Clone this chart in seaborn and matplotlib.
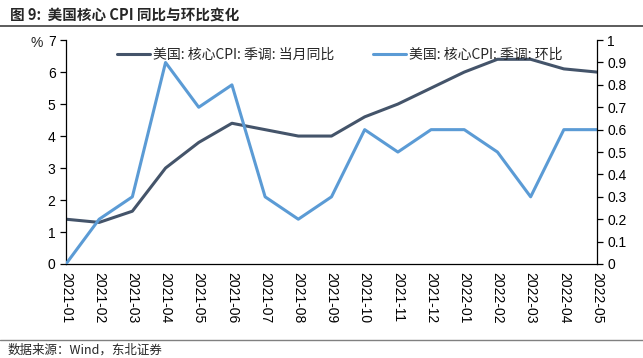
import matplotlib
matplotlib.use("Agg")
import matplotlib.pyplot as plt
import seaborn as sns
import pandas as pd

# data
months = ["2021-01", "2021-02", "2021-03", "2021-04", "2021-05", "2021-06",
          "2021-07", "2021-08", "2021-09", "2021-10", "2021-11", "2021-12",
          "2022-01", "2022-02", "2022-03", "2022-04", "2022-05"]
yoy = [1.4, 1.3, 1.65, 3.0, 3.8, 4.4, 4.2, 4.0, 4.0, 4.6, 5.0, 5.5, 6.0, 6.4, 6.4, 6.1, 6.0]
mom = [0.0, 0.2, 0.3, 0.9, 0.7, 0.8, 0.3, 0.2, 0.3, 0.6, 0.5, 0.6, 0.6, 0.5, 0.3, 0.6, 0.6]
yoy_name = "美国: 核心CPI: 季调: 当月同比"
mom_name = "美国: 核心CPI: 季调: 环比"

df = pd.DataFrame({"month": months, "yoy": yoy, "mom": mom})

sns.set_style("white")
plt.rcParams["font.family"] = ["Liberation Sans", "Noto Sans CJK SC", "DejaVu Sans"]

fig = plt.figure(figsize=(6.43, 3.58), dpi=100)
ax = fig.add_axes([0.1026, 0.2626, 0.8259, 0.6254])
ax2 = ax.twinx()

dark = "#44546A"
light = "#5B9BD5"
sns.lineplot(data=df, x="month", y="yoy", ax=ax, color=dark, linewidth=2.2, sort=False, label=yoy_name, legend=False)
sns.lineplot(data=df, x="month", y="mom", ax=ax2, color=light, linewidth=2.2, sort=False, label=mom_name, legend=False)

ax.set_xlim(0, len(months) - 1)
ax.set_ylim(0, 7)
ax2.set_ylim(0, 1)
ax.set_yticks(range(0, 8))
ax2.set_yticks([i / 10 for i in range(11)])
ax2.set_yticklabels(["0"] + [f"{i/10:.1f}" for i in range(1, 10)] + ["1"])
ax.set_xlabel("")
ax.set_ylabel("")
ax2.set_ylabel("")
ax.set_xticks(range(len(months)))
ax.set_xticklabels(months, rotation=270, fontsize=10)

for a in (ax, ax2):
    a.spines["top"].set_visible(False)
    for s in ("left", "right", "bottom"):
        a.spines[s].set_color("black")
        a.spines[s].set_linewidth(0.9)
    a.tick_params(axis="both", direction="out", length=4, width=0.9, labelsize=10, colors="black")
    a.grid(False)
ax.tick_params(axis="x", pad=2)
ax.spines["right"].set_visible(False)
ax2.spines["left"].set_visible(False)
ax2.spines["bottom"].set_visible(False)

ax.text(-0.056, 0.985, "%", transform=ax.transAxes, fontsize=10, va="center", ha="center")

handles = ax.get_lines()[:1] + ax2.get_lines()[:1]
ax.legend(handles, [yoy_name, mom_name], loc="center left", bbox_to_anchor=(0.072, 0.935), ncol=2,
          frameon=False, handlelength=2.4, columnspacing=2.8, handletextpad=0.2,
          prop={"family": ["Noto Sans CJK SC"], "size": 10})

fig.text(0.015, 0.958, "图 9:  美国核心 CPI 同比与环比变化", fontsize=10.5, fontweight="bold",
         family=["Noto Sans CJK SC"], va="center")
fig.add_artist(plt.Line2D([0.0, 1.0], [0.928, 0.928], color="#404040", linewidth=1.2, transform=fig.transFigure))
fig.add_artist(plt.Line2D([0.0, 1.0], [0.05, 0.05], color="#808080", linewidth=1.0, transform=fig.transFigure))
fig.text(0.012, 0.022, "数据来源：Wind，东北证券", fontsize=9, family=["Noto Sans CJK SC"], va="center")

fig.savefig("out.png", dpi=100)
